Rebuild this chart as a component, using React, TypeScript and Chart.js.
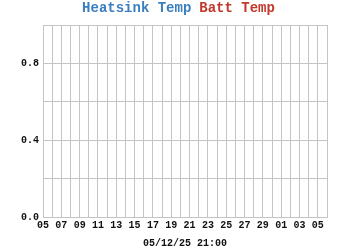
import React, { useEffect, useRef } from "react";
import { Chart, registerables } from "chart.js";

Chart.register(...registerables);

const seriesNames = ["Heatsink Temp", "Batt Temp"];
const seriesColors = ["#3b7fc0", "#c0392b"];
const heatsinkTemp: { x: number; y: number }[] = [];
const battTemp: { x: number; y: number }[] = [];
const xTickLabels = ["05", "07", "09", "11", "13", "15", "17", "19", "21", "23", "25", "27", "29", "01", "03", "05"];
const yTickLabels = ["0.0", "", "0.4", "", "0.8", ""];
const xAxisTitle = "05/12/25 21:00";

const FONT = "'Liberation Mono', 'Courier New', monospace";
const GRID = "#c4c4c4";

export default function App() {
  const ref = useRef<HTMLCanvasElement | null>(null);
  useEffect(() => {
    if (!ref.current) return;
    const chart = new Chart(ref.current, {
      type: "line",
      data: {
        datasets: [
          { label: seriesNames[0], data: heatsinkTemp, borderColor: seriesColors[0] },
          { label: seriesNames[1], data: battTemp, borderColor: seriesColors[1] },
        ],
      },
      options: {
        animation: false,
        responsive: false,
        maintainAspectRatio: false,
        layout: { padding: 0 },
        plugins: {
          tooltip: { enabled: false },
          legend: {
            display: true,
            position: "top",
            labels: {
              boxWidth: 0,
              boxHeight: 0,
              padding: 1,
              font: { family: FONT, size: 14, weight: "bold" },
              generateLabels: () =>
                seriesNames.map((n, i) => ({
                  text: n,
                  fontColor: seriesColors[i],
                  fillStyle: "rgba(0,0,0,0)",
                  strokeStyle: "rgba(0,0,0,0)",
                  lineWidth: 0,
                  hidden: false,
                  datasetIndex: i,
                })),
            },
          },
        },
        scales: {
          x: {
            type: "linear",
            min: 0,
            max: 31,
            afterFit: (s: any) => {
              s.height = 33;
            },
            grid: { color: GRID, drawTicks: false, lineWidth: 1 },
            border: { color: GRID },
            ticks: {
              stepSize: 1,
              autoSkip: false,
              maxRotation: 0,
              padding: 2,
              color: "#111",
              font: { family: FONT, size: 10, weight: "bold" },
              callback: (v: any) => {
                const n = Number(v);
                return n % 2 === 0 && n / 2 < xTickLabels.length ? xTickLabels[n / 2] : "";
              },
            },
            title: {
              display: true,
              text: xAxisTitle,
              color: "#111",
              font: { family: FONT, size: 10, weight: "bold" },
              padding: { top: 4, bottom: 1 },
            },
          },
          y: {
            min: 0,
            max: 1,
            afterFit: (s: any) => {
              s.width = 43;
            },
            grid: { color: GRID, drawTicks: false, lineWidth: 1 },
            border: { color: GRID },
            ticks: {
              stepSize: 0.2,
              padding: 4,
              color: "#111",
              font: { family: FONT, size: 10, weight: "bold" },
              callback: (v: any) => yTickLabels[Math.round(Number(v) / 0.2)] ?? "",
            },
          },
          yRight: {
            position: "right",
            min: 0,
            max: 1,
            afterFit: (s: any) => {
              s.width = 23;
            },
            grid: { display: false, drawTicks: false },
            border: { display: false },
            ticks: { display: false },
          },
        },
      },
    });
    return () => chart.destroy();
  }, []);
  return (
    <div style={{ position: "fixed", left: 0, top: 0, width: 350, height: 250, background: "#fff" }}>
      <canvas ref={ref} width={350} height={250} />
    </div>
  );
}
